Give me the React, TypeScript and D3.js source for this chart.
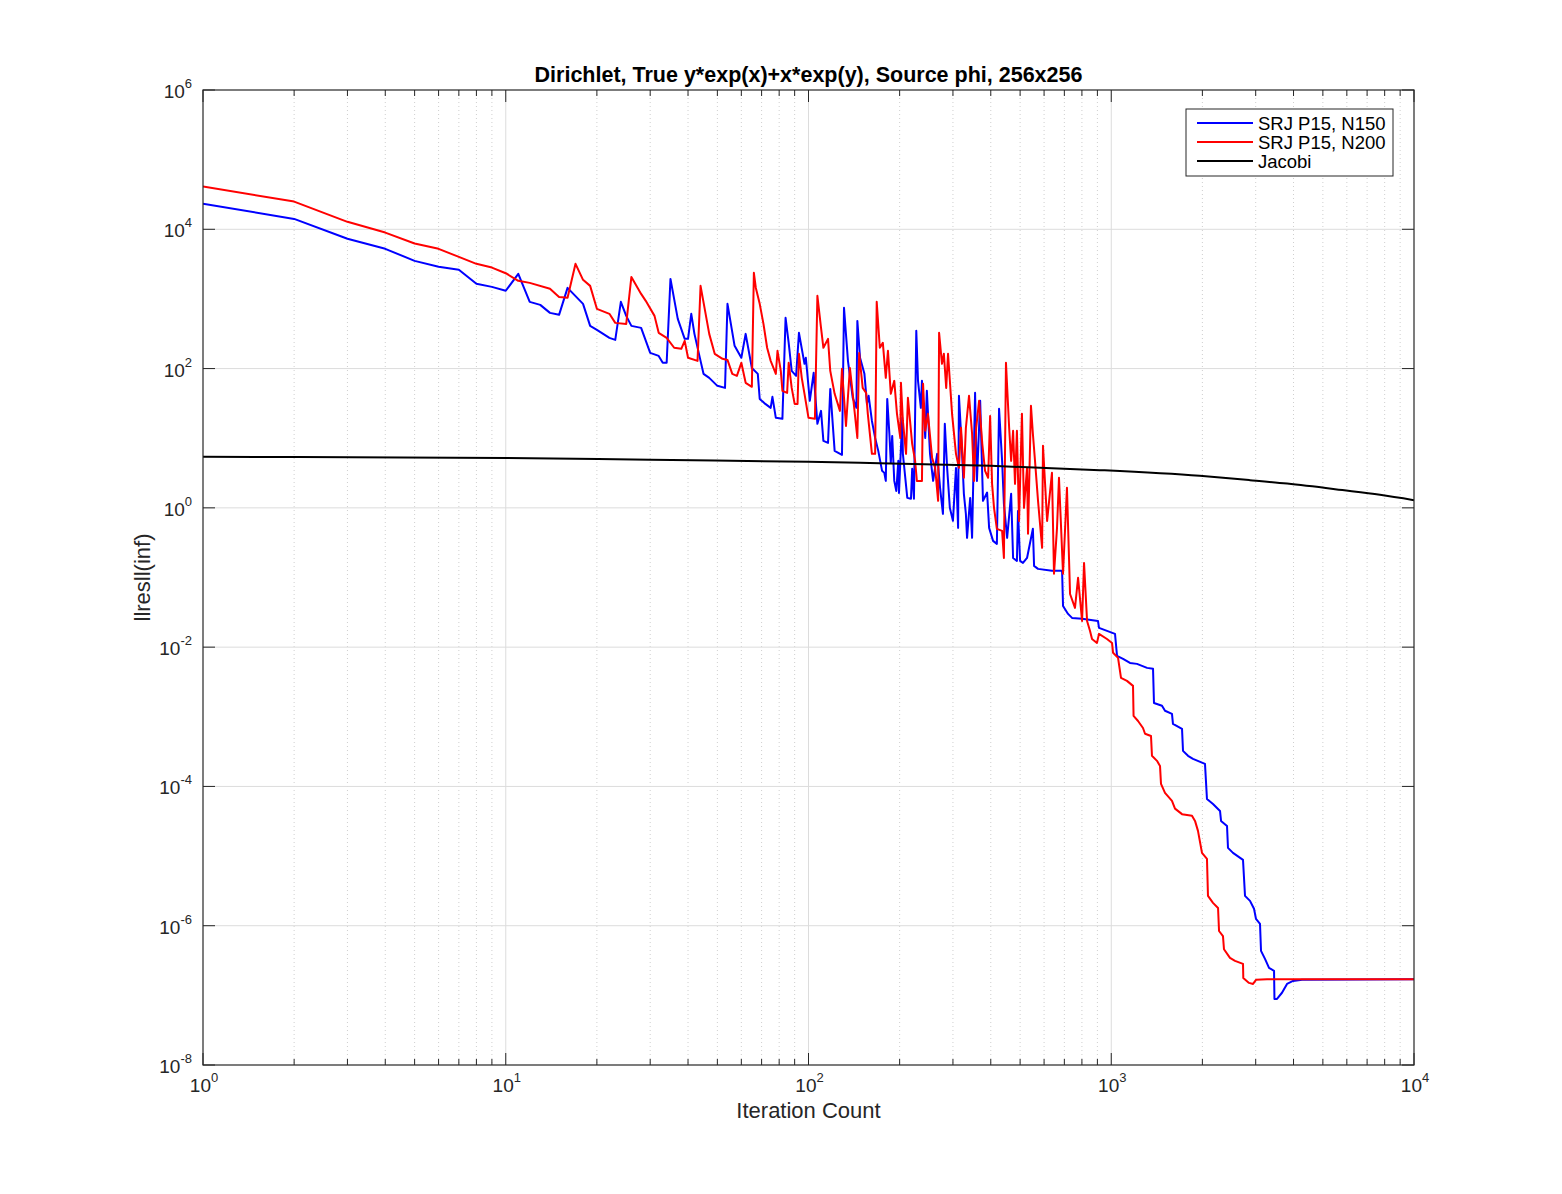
import React from 'react';
import * as d3 from 'd3';

// [iteration, ||res||(inf)]
const srjN150: [number, number][] = [
  [1, 2.32e4], [2, 1.41e4], [3, 7.3e3], [4, 5.24e3], [5, 3.52e3], [6, 2.89e3], [7, 2.62e3], [8, 1.65e3], [9, 1.49e3], [10, 1.31e3],
  [11, 2.29e3], [12, 908], [13, 822], [14, 631], [15, 591], [16, 1.44e3], [18, 850], [19, 410], [20, 360], [22, 276], [23, 258],
  [24, 908], [25, 571], [26, 410], [28, 384], [30, 168], [32, 152], [33, 121], [34, 121], [35, 1.94e3], [37, 518], [39, 267],
  [40, 267], [41, 611], [42, 315], [44, 129], [45, 84], [47, 73.6], [50, 56.5], [53, 52.8], [54, 850], [57, 212], [60, 143],
  [62, 315], [65, 102], [68, 84], [69, 36.7], [72, 31.1], [75, 27.3], [76, 39.3], [78, 19.6], [82, 19.0], [84, 535], [86, 234],
  [88, 92.7], [91, 78.6], [93, 326], [97, 117], [98, 143], [101, 34.4], [104, 86.8], [107, 16.1], [110, 24.7], [112, 9.16],
  [116, 8.58], [118, 51.1], [122, 6.58], [129, 5.77], [131, 745], [135, 129], [140, 38.0], [144, 27.3], [145, 484], [148, 143],
  [153, 84], [156, 31.1], [158, 40.6], [162, 17.7], [166, 10.1], [170, 6.58], [175, 3.40], [178, 3.18], [180, 2.44], [182, 36.7], [185, 11.6],
  [187, 4.43], [189, 10.8], [192, 2.44], [195, 1.75], [198, 4.73], [199, 1.64], [204, 19.6], [205, 5.96], [212, 1.39], [218, 1.35],
  [220, 3.63], [223, 1.35], [227, 348], [230, 66.6], [235, 27.3], [237, 66.6], [243, 10.1], [246, 47.9], [252, 5.96], [258, 2.44],
  [266, 5.96], [272, 1.94], [278, 0.82], [282, 16.1], [287, 3.75], [293, 1.0], [300, 0.65], [307, 3.75], [312, 0.516], [314, 40.6],
  [321, 7.27], [326, 1.59], [331, 0.82], [334, 0.371], [342, 1.39], [347, 0.371], [355, 44.8], [360, 2.44], [369, 34.4], [377, 1.26],
  [389, 1.66], [395, 0.516], [407, 0.336], [419, 0.304], [426, 26.4], [436, 4.73], [442, 1.14], [453, 0.371], [467, 1.59],
  [474, 0.191], [488, 0.173], [492, 0.905], [500, 0.173], [511, 0.162], [527, 0.191], [551, 0.50], [556, 0.147], [573, 0.133],
  [637, 0.125], [688, 0.125], [693, 0.039], [720, 0.030], [742, 0.0263], [801, 0.0255], [904, 0.0238], [911, 0.0189],
  [1029, 0.0155], [1045, 0.0075], [1094, 0.0068], [1153, 0.00594], [1216, 0.00575], [1313, 0.00504], [1374, 0.00488],
  [1384, 0.00158], [1471, 0.00144], [1505, 0.00122], [1587, 0.00110], [1599, 7.9e-4], [1713, 6.7e-4], [1726, 3.24e-4],
  [1793, 2.75e-4], [1862, 2.49e-4], [2040, 2.11e-4], [2071, 6.6e-5], [2168, 5.6e-5], [2287, 4.45e-5], [2305, 3.2e-5],
  [2412, 2.7e-5], [2430, 1.31e-5], [2524, 1.11e-5], [2724, 8.8e-6], [2766, 2.68e-6], [2873, 2.27e-6], [2962, 1.75e-6],
  [3007, 1.25e-6], [3100, 1.06e-6], [3124, 4.35e-7], [3220, 3.34e-7], [3320, 2.48e-7], [3449, 2.25e-7], [3460, 8.9e-8],
  [3528, 8.9e-8], [3664, 1.09e-7], [3807, 1.46e-7], [3986, 1.61e-7], [4267, 1.67e-7], [10000, 1.7e-7],
];

const srjN200: [number, number][] = [
  [1, 4.11e4], [2, 2.50e4], [3, 1.28e4], [4, 8.97e3], [5, 6.24e3], [6, 5.24e3], [7, 4.02e3], [8, 3.19e3], [9, 2.82e3], [10, 2.34e3],
  [11, 1.82e3], [12, 1.70e3], [14, 1.40e3], [15, 1.07e3], [16, 1.04e3], [17, 3.19e3], [18, 1.88e3], [19, 1.54e3], [20, 721],
  [22, 611], [23, 453], [25, 438], [26, 2.07e3], [28, 1.18e3], [29, 938], [31, 571], [32, 326], [34, 276], [36, 199], [38, 192],
  [39, 250], [40, 143], [43, 129], [44, 1.54e3], [47, 315], [49, 163], [52, 138], [54, 133], [56, 84], [58, 78.6], [60, 121],
  [62, 62.4], [65, 54.7], [66, 2.37e3], [67, 1.44e3], [69, 850], [71, 438], [73, 199], [75, 129], [78, 84], [79, 180], [81, 92.7],
  [82, 47.9], [85, 44.8], [86, 121], [88, 52.8], [90, 31.1], [92, 31.1], [93, 163], [95, 73.6], [97, 43.4], [100, 19.6], [105, 19.0],
  [107, 1.11e3], [110, 384], [112, 199], [116, 267], [118, 92.7], [122, 43.4], [127, 24.7], [129, 99], [133, 15.0], [137, 102],
  [140, 43.4], [145, 10.1], [147, 168], [151, 52.8], [155, 44.8], [157, 22.4], [162, 5.96], [166, 5.96], [168, 908], [172, 199],
  [176, 234], [180, 73.6], [183, 180], [187, 43.4], [192, 66.6], [196, 22.4], [201, 10.1], [202, 62.4], [205, 17.7], [210, 5.96],
  [213, 38.0], [220, 8.3], [225, 4.73], [228, 2.44], [237, 2.44], [239, 60.4], [243, 12.8], [248, 22.4], [256, 5.22], [262, 3.75],
  [268, 1.26], [270, 326], [276, 117], [280, 163], [285, 52.8], [289, 163], [298, 22.4], [307, 5.96], [314, 3.75], [319, 14.1],
  [326, 2.70], [331, 14.1], [339, 40.6], [347, 11.6], [352, 2.44], [358, 14.1], [366, 34.4], [375, 8.3], [383, 3.40], [392, 2.70], [398, 20.9], [404, 2.21],
  [410, 1.0], [419, 0.50], [436, 0.468], [442, 0.191], [449, 121], [460, 14.1], [467, 4.73], [474, 12.8], [481, 2.21], [488, 12.8],
  [496, 0.65], [507, 22.4], [515, 1.0], [527, 3.75], [531, 0.424], [543, 29.2], [551, 11.6], [560, 4.73], [573, 1.26], [591, 0.267],
  [595, 7.77], [614, 0.65], [637, 3.18], [647, 0.113], [662, 0.516], [672, 2.70], [693, 0.113], [714, 1.94], [731, 0.058],
  [759, 0.0366], [777, 0.099], [801, 0.0238], [813, 0.162], [832, 0.0238], [851, 0.0171], [864, 0.0131], [897, 0.0115],
  [911, 0.0155], [968, 0.0131], [1006, 0.0115], [1014, 0.0083], [1053, 0.0070], [1077, 0.00362], [1127, 0.00328], [1180, 0.00278],
  [1185, 0.00103], [1226, 8.7e-4], [1273, 6.9e-4], [1293, 5.7e-4], [1353, 5.3e-4], [1363, 2.75e-4], [1416, 2.33e-4],
  [1449, 1.97e-4], [1460, 1.09e-4], [1505, 8.1e-5], [1587, 6.2e-5], [1624, 4.8e-5], [1713, 4.0e-5], [1848, 3.8e-5], [1891, 3.2e-5],
  [1934, 2.3e-5], [1994, 1.11e-5], [2071, 9.1e-6], [2087, 2.68e-6], [2168, 2.13e-6], [2253, 1.80e-6], [2270, 8.4e-7],
  [2339, 7.1e-7], [2357, 4.6e-7], [2467, 3.45e-7], [2563, 3.13e-7], [2724, 2.83e-7], [2730, 1.78e-7], [2851, 1.51e-7],
  [2940, 1.46e-7], [3007, 1.67e-7], [3269, 1.7e-7], [10000, 1.7e-7],
];

const jacobi: [number, number][] = [
  [1, 5.40], [10, 5.22], [30, 4.9], [100, 4.58], [148, 4.43], [400, 4.01], [917, 3.48], [1960, 2.88], [2870, 2.50],
  [3810, 2.23], [5800, 1.80], [7720, 1.54], [10000, 1.29],
];

const xTickExponents = [0, 1, 2, 3, 4];
const yTickExponents = [-8, -6, -4, -2, 0, 2, 4, 6];
const legendLabels = ['SRJ P15, N150', 'SRJ P15, N200', 'Jacobi'];
const seriesColors = ['#0000ff', '#ff0000', '#000000'];

const title = 'Dirichlet, True y*exp(x)+x*exp(y), Source phi, 256x256';
const FONT = '"Liberation Sans", Arial, Helvetica, sans-serif';

const App: React.FC = () => {
  const width = 1562;
  const height = 1194;
  const left = 203, right = 1414, top = 90, bottom = 1065;

  const x = d3.scaleLog().domain([1, 1e4]).range([left, right]);
  const y = d3.scaleLog().domain([1e-8, 1e6]).range([bottom, top]);

  const line = d3
    .line<[number, number]>()
    .x((d) => x(d[0]))
    .y((d) => y(d[1]));

  const jacobiLine = d3
    .line<[number, number]>()
    .x((d) => x(d[0]))
    .y((d) => y(d[1]))
    .curve(d3.curveMonotoneX);

  const allX = x.ticks();
  const minorX = allX.filter((t) => Math.abs(Math.log10(t) - Math.round(Math.log10(t))) > 1e-6);
  const majorX = xTickExponents.map((e) => Math.pow(10, e));
  const majorY = yTickExponents.map((e) => Math.pow(10, e));

  return (
    <svg
      width={width}
      height={height}
      style={{ position: 'absolute', left: 0, top: 0, background: '#fff' }}
      fontFamily={FONT}
    >
      <rect x={0} y={0} width={width} height={height} fill="#fff" />

      {/* minor grid (x only) */}
      {minorX.map((t) => (
        <line key={'mg' + t} x1={x(t)} x2={x(t)} y1={top} y2={bottom}
          stroke="#cfcfcf" strokeWidth={1} strokeDasharray="1,3" />
      ))}
      {/* major grid */}
      {majorX.slice(1, -1).map((t) => (
        <line key={'gx' + t} x1={x(t)} x2={x(t)} y1={top} y2={bottom} stroke="#dcdcdc" strokeWidth={1} />
      ))}
      {majorY.slice(1, -1).map((t) => (
        <line key={'gy' + t} x1={left} x2={right} y1={y(t)} y2={y(t)} stroke="#dcdcdc" strokeWidth={1} />
      ))}

      {/* data */}
      <defs>
        <clipPath id="plotclip">
          <rect x={left} y={top} width={right - left} height={bottom - top} />
        </clipPath>
      </defs>
      <g clipPath="url(#plotclip)">
        <path d={line(srjN150) || ''} fill="none" stroke={seriesColors[0]} strokeWidth={2} strokeLinejoin="round" />
        <path d={line(srjN200) || ''} fill="none" stroke={seriesColors[1]} strokeWidth={2} strokeLinejoin="round" />
        <path d={jacobiLine(jacobi) || ''} fill="none" stroke={seriesColors[2]} strokeWidth={2} />
      </g>

      {/* box */}
      <rect x={left} y={top} width={right - left} height={bottom - top} fill="none" stroke="#262626" strokeWidth={1.2} />

      {/* x ticks */}
      {majorX.map((t) => (
        <g key={'xt' + t}>
          <line x1={x(t)} x2={x(t)} y1={bottom} y2={bottom - 12} stroke="#262626" />
          <line x1={x(t)} x2={x(t)} y1={top} y2={top + 12} stroke="#262626" />
        </g>
      ))}
      {minorX.map((t) => (
        <g key={'xm' + t}>
          <line x1={x(t)} x2={x(t)} y1={bottom} y2={bottom - 6} stroke="#262626" />
          <line x1={x(t)} x2={x(t)} y1={top} y2={top + 6} stroke="#262626" />
        </g>
      ))}
      {/* y ticks */}
      {majorY.map((t) => (
        <g key={'yt' + t}>
          <line x1={left} x2={left + 12} y1={y(t)} y2={y(t)} stroke="#262626" />
          <line x1={right} x2={right - 12} y1={y(t)} y2={y(t)} stroke="#262626" />
        </g>
      ))}

      {/* x tick labels */}
      {xTickExponents.map((e) => (
        <text key={'xl' + e} x={x(Math.pow(10, e)) + 1} y={bottom + 27} textAnchor="middle" fontSize={19} fill="#262626">
          10<tspan fontSize={13} dy={-10}>{e}</tspan>
        </text>
      ))}
      {/* y tick labels */}
      {yTickExponents.map((e) => (
        <text key={'yl' + e} x={left - 11} y={y(Math.pow(10, e)) + 8} textAnchor="end" fontSize={19} fill="#262626">
          10<tspan fontSize={13} dy={-10}>{e}</tspan>
        </text>
      ))}

      {/* labels */}
      <text x={(left + right) / 2} y={82} textAnchor="middle" fontSize={21.5} fontWeight="bold" fill="#000">
        {title}
      </text>
      <text x={(left + right) / 2} y={1118} textAnchor="middle" fontSize={22} fill="#262626">
        Iteration Count
      </text>
      <text transform={`translate(150, ${(top + bottom) / 2}) rotate(-90)`} textAnchor="middle" fontSize={22} fill="#262626">
        llresll(inf)
      </text>

      {/* legend */}
      <g>
        <rect x={1186} y={109} width={207} height={67} fill="#fff" stroke="#262626" strokeWidth={1} />
        {legendLabels.map((label, i) => (
          <g key={label} transform={`translate(1197, ${123 + i * 19})`}>
            <line x1={0} x2={56} y1={0} y2={0} stroke={seriesColors[i]} strokeWidth={2} />
            <text x={61} y={6.5} fontSize={18.5} fill="#000">{label}</text>
          </g>
        ))}
      </g>
    </svg>
  );
};

export default App;
